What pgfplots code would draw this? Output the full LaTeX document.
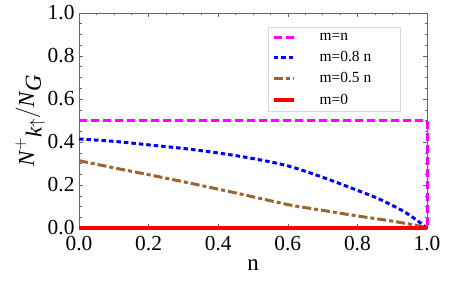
\documentclass[border=0pt]{standalone}
\usepackage{pgfplots}
\pgfplotsset{compat=1.18}
\usepackage{fontspec}
\setmainfont{Liberation Serif}
\definecolor{mbrown}{rgb}{0.6,0.4,0.2}
\definecolor{mmag}{rgb}{1,0,1}
\definecolor{mblue}{rgb}{0,0,1}
\definecolor{mred}{rgb}{1,0,0}
\definecolor{axgray}{gray}{0.4}
\begin{document}
\begin{tikzpicture}[x=1bp,y=1bp]
\path[use as bounding box] (0,0) rectangle (471,295);
\begin{axis}[
  at={(79bp,67bp)}, anchor=south west,
  scale only axis, width=348bp, height=215bp,
  xmin=0, xmax=1, ymin=0, ymax=1,
  xtick={0,0.2,0.4,0.6,0.8,1.0}, ytick={0,0.2,0.4,0.6,0.8,1.0},
  minor tick num=3,
  tick align=inside,
  major tick length=4bp, minor tick length=2.5bp,
  axis line style={axgray, line width=0.6bp},
  every tick/.style={axgray, line width=0.5bp},
  /pgf/number format/fixed, /pgf/number format/fixed zerofill, /pgf/number format/precision=1,
  /pgf/number format/assume math mode=true,
  tick label style={font=\fontsize{21.5}{24}\selectfont},
  xticklabel style={yshift=-5bp},
  yticklabel style={xshift=-1bp},
  xlabel={n}, xlabel style={font=\fontsize{23}{26}\selectfont, yshift=-2bp},
  ylabel={$\textit{N}^{+}{}_{\textit{k}\uparrow}/\textit{N}_{\textit{G}}$},
  ylabel style={font=\fontsize{23}{26}\selectfont, yshift=-4bp},
  clip=false,
  legend cell align=left,
  legend style={at={(0.543,0.935)}, anchor=north west, draw=gray!30,
    font=\fontsize{15.5}{18}\selectfont, row sep=5.5bp, inner xsep=4bp, inner ysep=4bp,
    /tikz/every odd column/.style={column sep=22bp}},
  legend image code/.code={\draw[#1] (0bp,0bp) -- (20bp,0bp);},
]
\addplot[mmag, line width=3bp, dash pattern=on 8bp off 4bp] coordinates {(0,0.5) (1,0.5) (1,0)};
\addlegendentry{\makebox[75bp][l]{m=n}}
\addplot[mblue, line width=3bp, dash pattern=on 4.5bp off 3bp, smooth] coordinates {
(0,0.414) (0.1,0.403) (0.204,0.386) (0.3,0.370) (0.396,0.350) (0.5,0.323) (0.6,0.289) (0.7,0.236) (0.8,0.175) (0.865,0.133) (0.93,0.08) (0.97,0.037) (1.0,0.0)};
\addlegendentry{\makebox[75bp][l]{m=0.8 n}}
\addplot[mbrown, line width=3bp, dash pattern=on 9bp off 3bp on 4bp off 3bp, smooth] coordinates {
(0,0.313) (0.1,0.280) (0.2,0.248) (0.3,0.215) (0.434,0.169) (0.5,0.145) (0.606,0.107) (0.7,0.082) (0.8,0.056) (0.9,0.032) (0.97,0.012) (1.0,0.0)};
\addlegendentry{\makebox[75bp][l]{m=0.5 n}}
\addplot[mred, line width=3.5bp] coordinates {(0,0) (1,0)};
\addlegendentry{\makebox[75bp][l]{m=0}}
\end{axis}
\end{tikzpicture}
\end{document}
